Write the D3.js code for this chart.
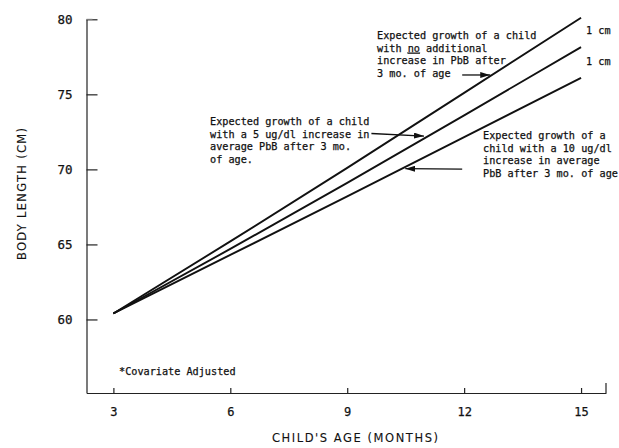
<!DOCTYPE html>
<html>
<head>
<meta charset="utf-8">
<script src="https://cdn.jsdelivr.net/npm/d3@7"></script>
<style>
  body { margin: 0; background: #fff; }
  svg { display: block; }
  text { font-family: "DejaVu Sans Mono", monospace; fill: #111; stroke: #111; stroke-width: 0.25px; }
</style>
</head>
<body>
<svg id="chart" width="619" height="448"></svg>
<script>
// values
const months = [3, 6, 9, 12, 15];
const noIncrease = [60.4, 65.2, 70.1, 75.1, 80.1];
const increase5 = [60.4, 64.7, 69.1, 73.6, 78.15];
const increase10 = [60.4, 64.3, 68.2, 72.15, 76.1];
const xTicks = [3, 6, 9, 12, 15];
const yTicks = [60, 65, 70, 75, 80];

const note1 = ["Expected growth of a child", "with no additional", "increase in PbB after", "3 mo. of age"];
const note2 = ["Expected growth of a child", "with a 5 ug/dl increase in", "average PbB after 3 mo.", "of age."];
const note3 = ["Expected growth of a", "child with a 10 ug/dl", "increase in average", "PbB after 3 mo. of age"];

const svg = d3.select("#chart");

const x = d3.scaleLinear().domain([2.31, 15.64]).range([86.5, 606]);
const y = d3.scaleLinear().domain([55.1, 80]).range([393, 19.3]);

// axes
const yAxis = svg.append("g")
  .attr("transform", `translate(${x.range()[0]},0)`)
  .call(d3.axisLeft(y).tickValues(yTicks).tickSizeInner(-11).tickSizeOuter(0).tickPadding(14));
yAxis.selectAll("text").style("font-size", "12.5px");

const xAxis = svg.append("g")
  .attr("transform", `translate(0,${y.range()[0]})`)
  .call(d3.axisBottom(x).tickValues(xTicks).tickSizeInner(-5).tickSizeOuter(0).tickPadding(14.5));
xAxis.selectAll("text").style("font-size", "12px");

svg.selectAll(".domain, .tick line").attr("stroke", "#222").attr("stroke-width", 1.2);

// small end marks of the frame
svg.append("line")
  .attr("x1", x.range()[1]).attr("x2", x.range()[1])
  .attr("y1", y.range()[0]).attr("y2", y.range()[0] - 10)
  .attr("stroke", "#222").attr("stroke-width", 1.2);
svg.append("line")
  .attr("x1", x.range()[0]).attr("x2", x.range()[0] + 6)
  .attr("y1", y.range()[1]).attr("y2", y.range()[1])
  .attr("stroke", "#888").attr("stroke-width", 1);

// axis titles
svg.append("text")
  .attr("x", 355).attr("y", 442)
  .attr("text-anchor", "middle")
  .attr("textLength", 166).attr("lengthAdjust", "spacing")
  .style("font-family", "'DejaVu Sans', sans-serif")
  .style("font-size", "11.5px")
  .style("stroke-width", "0.1px")
  .text("CHILD'S AGE  (MONTHS)");

svg.append("text")
  .attr("transform", "translate(26,194) rotate(-90)")
  .attr("text-anchor", "middle")
  .attr("textLength", 132).attr("lengthAdjust", "spacing")
  .style("font-family", "'DejaVu Sans', sans-serif")
  .style("font-size", "11.5px")
  .style("stroke-width", "0.1px")
  .text("BODY LENGTH  (CM)");

// growth lines
const line = d3.line()
  .x((d, i) => x(months[i]))
  .y(d => y(d));

svg.selectAll(".growth")
  .data([noIncrease, increase5, increase10])
  .enter()
  .append("path")
    .attr("class", "growth")
    .attr("fill", "none")
    .attr("stroke", "#111")
    .attr("stroke-width", 1.9)
    .attr("d", line);

// annotations
function note(lines, x0, y0) {
  const t = svg.append("text").style("font-size", "10.2px");
  lines.forEach((s, i) => {
    const ts = t.append("tspan").attr("x", x0).attr("y", y0 + i * 12.7);
    if (s.includes(" no ")) {
      const parts = s.split(" no ");
      ts.append("tspan").text(parts[0] + " ");
      ts.append("tspan").style("text-decoration", "underline").text("no");
      ts.append("tspan").text(" " + parts[1]);
    } else {
      ts.text(s);
    }
  });
}
note(note1, 377, 39);
note(note2, 210, 125);
note(note3, 483, 139);

svg.append("text").attr("x", 119).attr("y", 374.5).style("font-size", "10.2px").text("*Covariate Adjusted");

svg.append("text").attr("x", 586).attr("y", 34).style("font-size", "10.2px").text("1 cm");
svg.append("text").attr("x", 586).attr("y", 65).style("font-size", "10.2px").text("1 cm");

// arrows: [from month, from value, to month, to value]
const arrows = [
  [11.95, 76.29, 12.67, 76.29],
  [9.62, 72.39, 10.97, 72.22],
  [11.95, 70.02, 10.49, 70.05]
];
const defs = svg.append("defs");
defs.append("marker")
  .attr("id", "head")
  .attr("viewBox", "0 0 10 6")
  .attr("refX", 10).attr("refY", 3)
  .attr("markerWidth", 10).attr("markerHeight", 6)
  .attr("markerUnits", "userSpaceOnUse")
  .attr("orient", "auto")
  .append("path").attr("d", "M0,0L10,3L0,6Z").attr("fill", "#111");

svg.selectAll(".arrow")
  .data(arrows)
  .enter()
  .append("line")
    .attr("class", "arrow")
    .attr("x1", d => x(d[0])).attr("y1", d => y(d[1]))
    .attr("x2", d => x(d[2])).attr("y2", d => y(d[3]))
    .attr("stroke", "#111").attr("stroke-width", 1.3)
    .attr("marker-end", "url(#head)");
</script>
</body>
</html>
